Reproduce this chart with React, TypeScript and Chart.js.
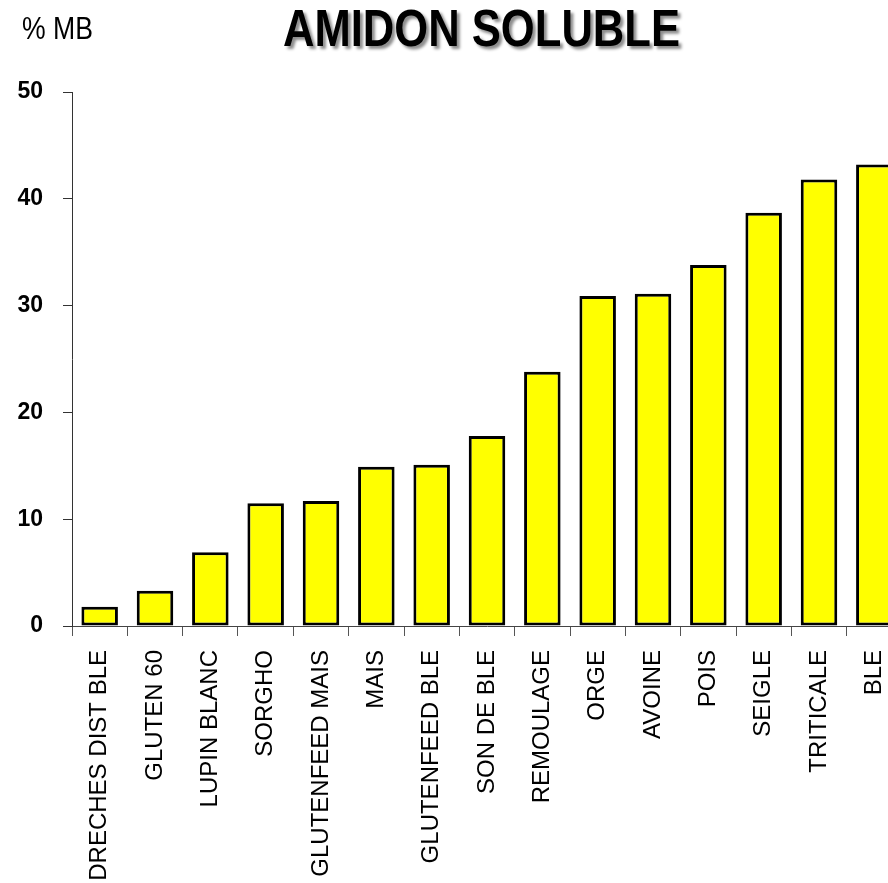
import React, { useEffect, useRef } from "react";
import { Chart, registerables } from "chart.js";

Chart.register(...registerables);

const categories = [
  "DRECHES DIST BLE",
  "GLUTEN 60",
  "LUPIN BLANC",
  "SORGHO",
  "GLUTENFEED MAIS",
  "MAIS",
  "GLUTENFEED BLE",
  "SON DE BLE",
  "REMOULAGE",
  "ORGE",
  "AVOINE",
  "POIS",
  "SEIGLE",
  "TRITICALE",
  "BLE",
];
const values = [1.8, 3.3, 6.9, 11.5, 11.7, 14.9, 15.1, 17.8, 23.8, 30.9, 31.1, 33.8, 38.7, 41.8, 43.2];
const yMin = 0;
const yMax = 50;
const yStep = 10;
const titleText = "AMIDON SOLUBLE";
const unitText = "% MB";

const SANS = "'Liberation Sans', Arial, sans-serif";

function drawScaledText(ctx: any, text: string, font: string, x: number, y: number, targetWidth: number, align: "left" | "center") {
  ctx.font = font;
  const w = ctx.measureText(text).width;
  const sx = targetWidth / w;
  ctx.translate(x, y);
  ctx.scale(sx, 1);
  ctx.textAlign = align;
  ctx.textBaseline = "alphabetic";
  ctx.fillText(text, 0, 0);
}

const textPlugin = {
  id: "headerText",
  afterDraw(chart: any) {
    const ctx = chart.ctx;
    ctx.save();
    ctx.shadowColor = "rgba(0,0,0,0.45)";
    ctx.shadowOffsetX = 3;
    ctx.shadowOffsetY = 3;
    ctx.shadowBlur = 3;
    ctx.fillStyle = "#000";
    drawScaledText(ctx, titleText, `bold 52px ${SANS}`, 481.5, 46, 397, "center");
    ctx.restore();
    ctx.save();
    ctx.fillStyle = "#000";
    drawScaledText(ctx, unitText, `31px ${SANS}`, 22, 39, 71, "left");
    ctx.restore();
  },
};

export default function App() {
  const ref = useRef<HTMLCanvasElement | null>(null);
  useEffect(() => {
    if (!ref.current) return;
    const chart = new Chart(ref.current, {
      type: "bar",
      data: {
        labels: categories,
        datasets: [
          {
            data: values,
            backgroundColor: "#ffff00",
            borderColor: "#000000",
            borderWidth: 3,
            borderSkipped: false,
            categoryPercentage: 1,
            barPercentage: 0.66,
          },
        ],
      },
      options: {
        animation: false,
        responsive: false,
        layout: { padding: { top: 92, right: 0, bottom: 0, left: 0 } },
        plugins: { legend: { display: false }, title: { display: false }, tooltip: { enabled: false } },
        scales: {
          x: {
            grid: { display: true, drawOnChartArea: false, drawTicks: true, tickLength: 10, color: "#555", offset: true },
            border: { display: true, color: "#444", width: 1 },
            ticks: {
              autoSkip: false,
              maxRotation: 90,
              minRotation: 90,
              padding: 14,
              color: "#000",
              font: { family: SANS, size: 24 },
            },
            afterFit: (scale: any) => {
              scale.height = 257;
              scale.paddingLeft = 0;
              scale.paddingRight = 0;
            },
          },
          y: {
            min: yMin,
            max: yMax,
            ticks: { stepSize: yStep, padding: 20, color: "#000", font: { family: SANS, size: 23, weight: "bold" } },
            grid: { display: true, drawOnChartArea: false, drawTicks: true, tickLength: 9, color: "#333" },
            border: { display: true, color: "#333", width: 1 },
            afterFit: (scale: any) => {
              scale.width = 72;
            },
          },
        },
      },
      plugins: [textPlugin],
    });
    return () => chart.destroy();
  }, []);
  return (
    <div style={{ position: "fixed", left: 0, top: 0, width: 888, height: 883, overflow: "hidden", background: "#fff" }}>
      <canvas ref={ref} width={902} height={883} style={{ display: "block", width: 902, height: 883 }} />
    </div>
  );
}
